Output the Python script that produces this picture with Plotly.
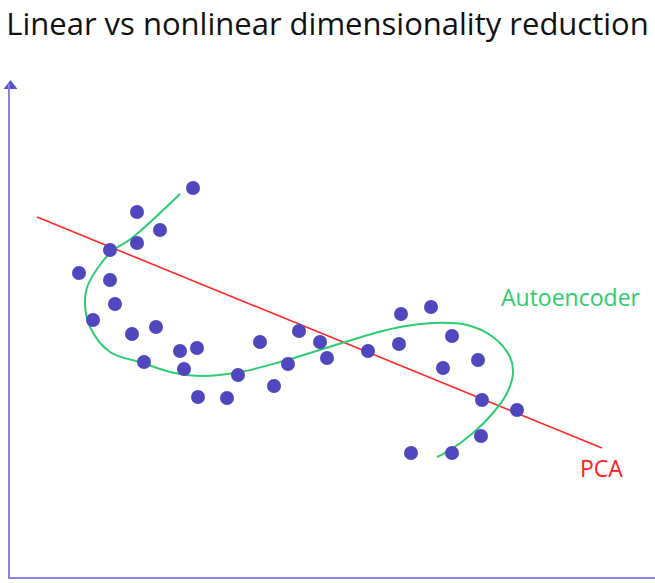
import plotly.graph_objects as go

# data points (chart coordinates; y grows downward)
pts_x = [193, 137, 160, 137, 110, 79, 110, 115, 93, 132, 156, 144, 180, 197, 184, 198, 227, 238,
         260, 274, 288, 299, 320, 327, 368, 399, 401, 431, 452, 443, 478, 482, 517, 481, 452, 411]
pts_y = [188, 212, 230, 243, 250, 273, 280, 304, 320, 334, 327, 362, 351, 348, 369, 397, 398, 375,
         342, 386, 364, 331, 342, 358, 351, 344, 314, 307, 336, 368, 360, 400, 410, 436, 453, 453]

# PCA line
pca_x = [37, 602]
pca_y = [217, 448]

# Autoencoder curve
ae_x = [180, 132, 110, 88, 85, 90, 110, 143, 170, 203, 240, 280, 310, 345, 375, 400, 433, 467, 493,
        510, 513, 507, 493, 473, 450, 437]
ae_y = [194, 238, 253, 285, 303, 327, 352, 363, 372, 376, 372, 362, 353, 342, 333, 327, 323, 325, 337,
        357, 373, 393, 413, 433, 450, 457]

title = "Linear vs nonlinear dimensionality reduction"
axis_color = "#8A82E0"

fig = go.Figure()
fig.add_trace(go.Scatter(x=pca_x, y=pca_y, mode="lines", line=dict(color="#FF2A2A", width=1.6),
                         hoverinfo="skip"))
fig.add_trace(go.Scatter(x=ae_x, y=ae_y, mode="lines", line=dict(color="#2ECC71", width=2, shape="spline",
                         smoothing=1.0), hoverinfo="skip"))
fig.add_trace(go.Scatter(x=pts_x, y=pts_y, mode="markers",
                         marker=dict(color="#5046BE", size=14, line=dict(width=0))))
# arrow head at top of the vertical axis
fig.add_trace(go.Scatter(x=[10.5], y=[86], mode="markers", cliponaxis=False,
                         marker=dict(symbol="triangle-up", size=12, color="#5A50D0")))

fig.add_annotation(x=571, y=297, text="Autoencoder", showarrow=False,
                   font=dict(family="Open Sans", size=23, color="#2ECC71"))
fig.add_annotation(x=601, y=468, text="PCA", showarrow=False,
                   font=dict(family="Open Sans", size=23, color="#FF2020"))

fig.update_layout(
    width=655, height=583,
    margin=dict(l=10, r=0, t=84, b=6),
    paper_bgcolor="white", plot_bgcolor="white",
    showlegend=False,
    title=dict(text=title, x=0.5, xanchor="center", y=1 - 24 / 583, yref="container", yanchor="middle",
               font=dict(family="Open Sans", size=31, color="#111111")),
    xaxis=dict(range=[10, 655], showgrid=False, zeroline=False, showticklabels=False, ticks="",
               showline=True, linecolor=axis_color, linewidth=2),
    yaxis=dict(range=[577, 84], showgrid=False, zeroline=False, showticklabels=False, ticks="",
               showline=True, linecolor=axis_color, linewidth=2),
)

fig.write_html("out.html", config={"displayModeBar": False},
               post_script="document.body.style.margin='0';")
